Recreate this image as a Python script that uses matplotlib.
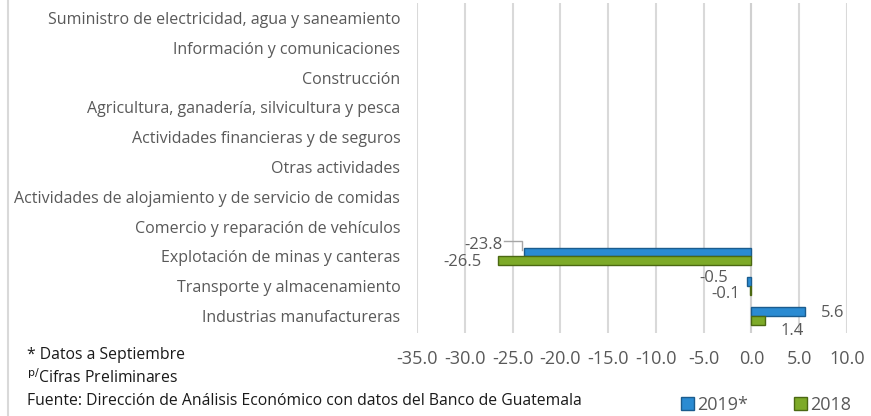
import matplotlib
matplotlib.use("Agg")
import matplotlib.pyplot as plt
from matplotlib.patches import Rectangle
from matplotlib.lines import Line2D
import numpy as np

categories = [
    "Industrias manufactureras",
    "Transporte y almacenamiento",
    "Explotación de minas y canteras",
    "Comercio y reparación de vehículos",
    "Actividades de alojamiento y de servicio de comidas",
    "Otras actividades",
    "Actividades financieras y de seguros",
    "Agricultura, ganadería, silvicultura y pesca",
    "Construcción",
    "Información y comunicaciones",
    "Suministro de electricidad, agua y saneamiento",
]
v2019 = [5.6, -0.5, -23.8, 0, 0, 0, 0, 0, 0, 0, 0]
v2018 = [1.4, -0.1, -26.5, 0, 0, 0, 0, 0, 0, 0, 0]
xticks = [-35, -30, -25, -20, -15, -10, -5, 0, 5, 10]

plt.rcParams['font.family'] = ['Open Sans', 'DejaVu Sans']
txt = '#595959'
blue = '#2A8BD2'
blue_e = '#1B5C8E'
green = '#7DAA28'
green_e = '#4B6812'

fig = plt.figure(figsize=(8.71, 4.16), dpi=100)
ax = fig.add_axes([417/871, 1-333/416, 430/871, 330/416])
y = np.arange(len(categories))
h = 0.3
lw19 = [1 if v != 0 else 0 for v in v2019]
lw18 = [1 if v != 0 else 0 for v in v2018]
ax.barh(y + h/2, v2019, height=h, color=blue, edgecolor=blue_e, linewidth=lw19, zorder=3)
ax.barh(y - h/2, v2018, height=h, color=green, edgecolor=green_e, linewidth=lw18, zorder=3)

ax.set_xlim(-35, 10)
ax.set_ylim(-0.567, 10.5)
ax.set_xticks(xticks)
ax.set_xticklabels([f"{t:.1f}" for t in xticks], fontsize=13, color=txt)
ax.set_yticks(y)
ax.set_yticklabels(categories, fontsize=11.5, color=txt)
ax.tick_params(axis='both', length=0)
ax.tick_params(axis='y', pad=12)
ax.tick_params(axis='x', pad=12)
ax.grid(axis='x', color='#D9D9D9', linewidth=1.5, zorder=0)
for s in ax.spines.values():
    s.set_visible(False)
ax.axvline(0, color='#D0D0D0', linewidth=1.5, zorder=2)

# data labels
lab_kw = dict(fontsize=12, color=txt, ha='center', va='center')
ax.text(-28.05, 2.38, "-23.8", **lab_kw)
ax.plot([-25.9, -24.0, -24.0], [2.52, 2.52, 2.22], color='#A6A6A6', lw=1, zorder=4)
ax.text(-30.24, 1.81, "-26.5", **lab_kw)
ax.text(-3.98, 1.28, "-0.5", **lab_kw)
ax.text(-2.72, 0.74, "-0.1", **lab_kw)
ax.text(8.48, 0.10, "5.6", **lab_kw)
ax.text(4.3, -0.5, "1.4", clip_on=False, **lab_kw)

# notes
note_kw = dict(fontsize=11.3, color='#1A1A1A', va='center')
fig.text(27/871, 1-355/416, "* Datos a Septiembre", **note_kw)
fig.text(27/871, 1-378/416, r"$^{\mathrm{p/}}$Cifras Preliminares", **note_kw)
fig.text(27/871, 1-401/416, "Fuente: Dirección de Análisis Económico con datos del Banco de Guatemala", **note_kw)

# legend
handles = [Rectangle((0, 0), 1, 1, facecolor=blue, edgecolor=blue_e),
           Rectangle((0, 0), 1, 1, facecolor=green, edgecolor=green_e)]
fig.legend(handles, ["2019*", "2018"], loc='center', bbox_to_anchor=(766/871, 1-405/416), ncol=2,
           frameon=False, fontsize=13, labelcolor=txt, handlelength=0.7, handleheight=0.7,
           handletextpad=0.15, columnspacing=2.6)

# left border
fig.add_artist(Line2D([8/871, 8/871], [0, 1], color='#D9D9D9', lw=1.5))

fig.savefig("out.png", dpi=100)
